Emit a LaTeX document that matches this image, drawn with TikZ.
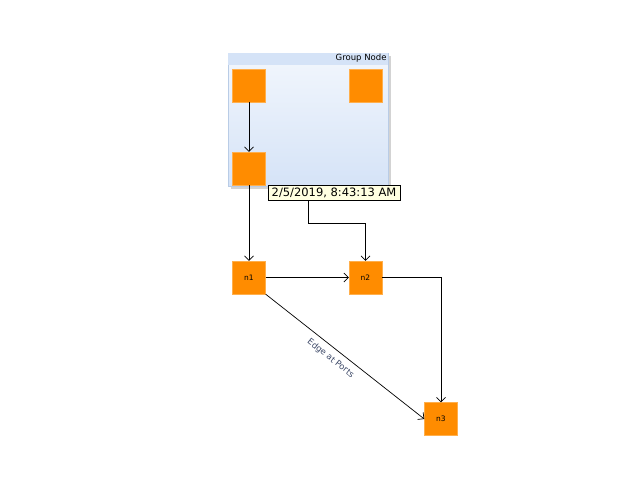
\documentclass[tikz,border=0pt]{standalone}
\usepackage{fontspec}
\setmainfont{DejaVu Sans}
\usetikzlibrary{arrows.meta,shadows}

\definecolor{boxorange}{HTML}{FF8C00}
\definecolor{groupline}{HTML}{B9CCE6}
\definecolor{grouphead}{HTML}{D5E3F7}
\definecolor{tipyellow}{HTML}{FFFFE1}
\definecolor{edgelabel}{HTML}{3B4766}

\begin{document}
\begin{tikzpicture}
[x=1pt,y=-1pt,
every node/.style={inner sep=0pt},
box/.style={shape=rectangle,fill=boxorange,draw=boxorange!70!white,line width=0.4pt,
	minimum width=33pt,minimum height=33pt,font=\fontsize{7.5}{8}\selectfont},
groupbox/.style={shape=rectangle,draw=groupline,top color=white!70!grouphead,bottom color=grouphead,
	minimum width=160pt,minimum height=133pt,
	drop shadow={shadow xshift=2.5pt,shadow yshift=-2.5pt,opacity=0.35}},
link/.style={draw=black,line width=0.7pt,-{Straight Barb[length=4.5pt,width=9pt]}},
tip/.style={shape=rectangle,draw=black,fill=tipyellow,inner xsep=3.5pt,inner ysep=2.5pt,
	font=\fontsize{11.5}{12}\selectfont}]

\useasboundingbox (0,0) rectangle (640,480);

% group node with its header
\node[groupbox] (group) at (308,119.5) {};
\fill[grouphead] ([xshift=0.4pt,yshift=-0.4pt]group.north west) rectangle ([xshift=-0.4pt,yshift=-12pt]group.north east);
\node[anchor=north east,font=\fontsize{8.5}{9}\selectfont] (grouptitle) at ([xshift=-1.5pt,yshift=-1.5pt]group.north east) {Group Node};

% boxes
\node[box] (ga) at (249,85.5) {};
\node[box] (gb) at (365.5,85.5) {};
\node[box] (gc) at (249,168.5) {};
\node[box] (n1) at (249,277.5) {n1};
\node[box] (n2) at (365.5,277.5) {n2};
\node[box] (n3) at (441,419) {n3};

% edges
\coordinate (gbend) at (308,223);
\draw[link] (ga.south) -- (gc.north);
\draw[link] (gc.south) -- (n1.north);
\draw[link] (group.south) -- (gbend) -| (n2.north);
\draw[link] (n1.east) -- (n2.west);
\draw[link] (n2.east) -| (n3.north);
\draw[link] (n1.south east) -- node[sloped,below=6pt,pos=0.45,text=edgelabel,font=\fontsize{8.5}{9}\selectfont] (portlabel) {Edge at Ports} (n3.west);

% tooltip
\node[tip,anchor=north west] (stamp) at (268,185) {2/5/2019, 8:43:13 AM};
\end{tikzpicture}
\end{document}
